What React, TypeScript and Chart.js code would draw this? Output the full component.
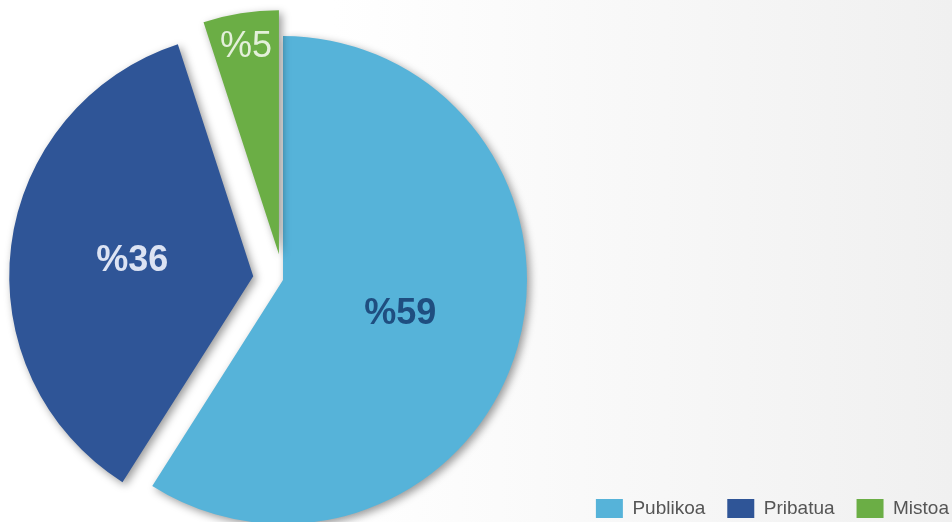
import React, { useEffect, useRef } from "react";
import { Chart, registerables } from "chart.js";

Chart.register(...registerables);

const categories = ["Publikoa", "Pribatua", "Mistoa"];
const values = [59, 36, 5];
const valueLabels = ["%59", "%36", "%5"];

const sliceColors = ["#56B3D9", "#2F5597", "#6BAE45"];
const labelColors = ["#1F4E80", "#DCE3F3", "#E4F0DA"];
const labelWeights = ["bold", "bold", "normal"];
const labelRadiusFactor = [0.5, 0.5, 0.86];
const explodeDistances = [0, 30, 26];

// Explode slices along their mid-angle (pixel distances, style only)
const explodePlugin = {
  id: "explodeSlices",
  afterDatasetUpdate(chart: any, args: any) {
    const meta = chart.getDatasetMeta(args.index);
    meta.data.forEach((arc: any, i: number) => {
      const d = explodeDistances[i] || 0;
      if (!d) return;
      const mid = (arc.startAngle + arc.endAngle) / 2;
      arc.x += Math.cos(mid) * d;
      arc.y += Math.sin(mid) * d;
    });
  },
};

const shadowPlugin = {
  id: "sliceShadow",
  beforeDatasetsDraw(chart: any) {
    const ctx = chart.ctx;
    ctx.save();
    ctx.shadowColor = "rgba(0,0,0,0.4)";
    ctx.shadowBlur = 8;
    ctx.shadowOffsetX = 3;
    ctx.shadowOffsetY = 3;
  },
  afterDatasetsDraw(chart: any) {
    chart.ctx.restore();
  },
};

const labelPlugin = {
  id: "sliceLabels",
  afterDatasetsDraw(chart: any) {
    const ctx = chart.ctx;
    const meta = chart.getDatasetMeta(0);
    meta.data.forEach((arc: any, i: number) => {
      const mid = (arc.startAngle + arc.endAngle) / 2;
      const r = arc.outerRadius * labelRadiusFactor[i];
      const lx = arc.x + Math.cos(mid) * r;
      const ly = arc.y + Math.sin(mid) * r;
      ctx.save();
      ctx.font = `${labelWeights[i]} 36px "Liberation Sans", Arial, sans-serif`;
      ctx.fillStyle = labelColors[i];
      ctx.textAlign = "center";
      ctx.textBaseline = "middle";
      ctx.fillText(valueLabels[i], lx, ly);
      ctx.restore();
    });
  },
};

export default function App() {
  const canvasRef = useRef<HTMLCanvasElement | null>(null);

  useEffect(() => {
    if (!canvasRef.current) return;
    const chart = new Chart(canvasRef.current, {
      type: "pie",
      data: {
        labels: categories,
        datasets: [
          {
            data: values,
            backgroundColor: sliceColors,
            borderWidth: 0,
            radius: 244,
          } as any,
        ],
      },
      options: {
        animation: false,
        responsive: true,
        maintainAspectRatio: false,
        layout: {
          padding: { left: 0, right: -19, top: 83, bottom: -6 },
        },
        plugins: {
          tooltip: { enabled: false },
          legend: {
            position: "bottom",
            align: "end",
            labels: {
              boxWidth: 27,
              boxHeight: 19,
              padding: 22,
              color: "#555555",
              font: { family: '"Liberation Sans", Arial, sans-serif', size: 19 },
            },
          },
        },
      },
      plugins: [explodePlugin, shadowPlugin, labelPlugin],
    });
    return () => chart.destroy();
  }, []);

  return (
    <div
      style={{
        position: "absolute",
        left: 0,
        top: 0,
        width: 952,
        height: 522,
        overflow: "hidden",
        background: "linear-gradient(to right, #ffffff 0%, #ffffff 35%, #f0f0f0 100%)",
      }}
    >
      <div style={{ position: "absolute", left: -386, top: 0, width: 1338, height: 522 }}>
        <canvas ref={canvasRef} />
      </div>
    </div>
  );
}
